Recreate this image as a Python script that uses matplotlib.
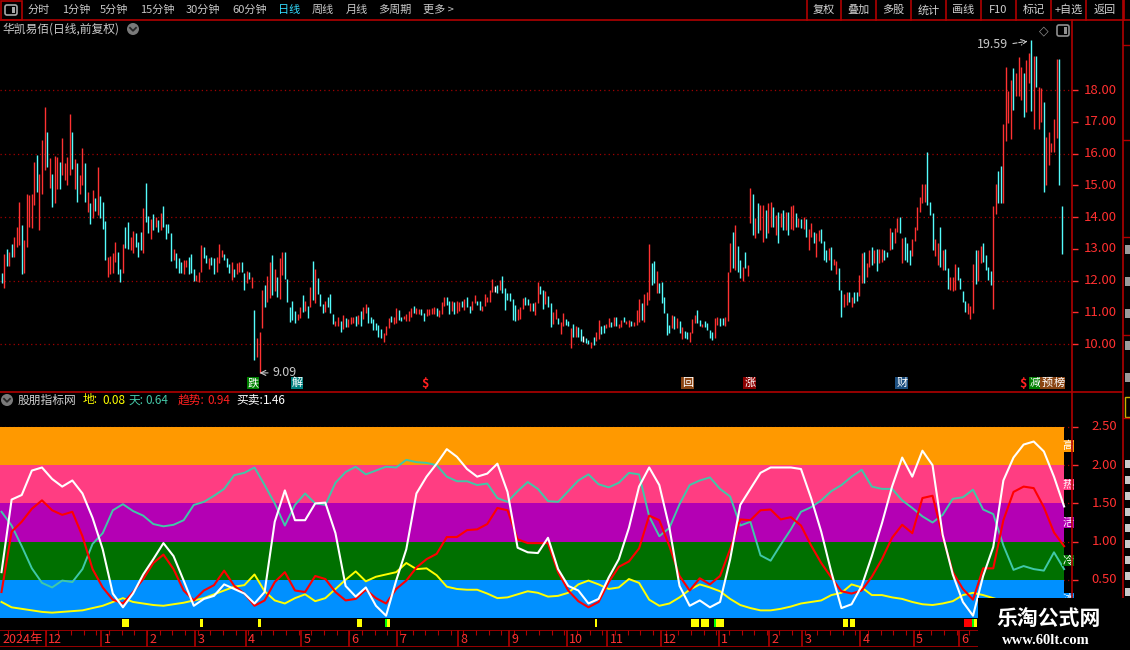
import numpy as np
import matplotlib
matplotlib.use("Agg")
import matplotlib.pyplot as plt
from matplotlib.patches import Rectangle, Circle, FancyBboxPatch

plt.rcParams['font.family'] = ['Noto Sans CJK SC', 'DejaVu Sans']

# ---- daily candles: high, low, colour flag (1 = up/red, 0 = down/cyan, 2 = doji/white)
HIGH = [
    12.23, 12.83, 12.98, 12.91, 13.15, 13.38, 13.70, 14.47, 13.75, 13.27, 14.72, 14.69, 14.74, 15.74, 15.94, 15.37, 16.43, 17.48, 16.67, 15.85,
    15.37, 15.92, 15.88, 15.74, 16.48, 15.69, 15.90, 17.24, 16.67, 15.82, 15.69, 15.32, 16.16, 15.69, 14.80, 14.43, 14.85, 14.61, 15.56, 14.66,
    14.48, 13.87, 12.75, 12.78, 12.86, 13.20, 12.89, 12.35, 13.15, 13.70, 13.84, 13.38, 13.56, 13.49, 13.22, 13.54, 14.27, 15.07, 14.03, 13.93,
    14.09, 13.99, 13.90, 14.14, 14.36, 13.77, 13.78, 13.49, 13.00, 12.86, 12.70, 12.59, 12.65, 12.65, 12.75, 12.83, 12.36, 12.17, 12.28, 13.12,
    13.07, 12.80, 12.70, 12.75, 12.70, 12.73, 13.15, 12.96, 12.83, 12.72, 12.52, 12.59, 12.36, 12.56, 12.59, 12.59, 12.25, 12.30, 12.28, 12.10,
    11.07, 10.18, 10.39, 11.70, 11.86, 12.14, 12.59, 12.80, 12.35, 12.12, 12.70, 12.89, 12.91, 12.04, 11.18, 11.36, 11.05, 10.96,
    11.16, 11.54, 11.35, 11.21, 11.81, 12.61, 12.36, 12.07, 11.58, 11.26, 11.35, 11.49, 11.58, 10.93, 10.72, 10.84, 10.73, 10.91, 10.81, 10.80, 10.84, 10.86,
    10.88, 10.91, 11.04, 11.16, 11.26, 11.16, 10.86, 10.79, 10.65, 10.60, 10.46, 10.34, 10.57, 10.81, 10.88, 10.86, 11.12, 11.07, 10.86, 10.89,
    10.93, 11.04, 11.14, 11.20, 11.14, 11.09, 11.10, 10.99, 11.11, 11.09, 11.14, 11.16, 11.12, 11.07, 11.33, 11.47, 11.47, 11.37, 11.34, 11.33,
    11.35, 11.33, 11.35, 11.41, 11.47, 11.21, 11.35, 11.54, 11.37, 11.35, 11.20, 11.58, 11.47, 11.70, 12.04, 11.83, 11.86, 12.02, 12.14, 11.75,
    11.60, 11.62, 11.42, 11.23, 11.09, 11.16, 11.44, 11.47, 11.42, 11.28, 11.28, 11.33, 11.96, 11.83, 11.70, 11.67, 11.51, 11.28, 11.01, 11.10,
    10.83, 10.70, 10.97, 10.79, 10.72, 10.51, 10.63, 10.57, 10.52, 10.47, 10.25, 10.18, 10.13, 10.07, 10.23, 10.37, 10.76, 10.57, 10.60, 10.63,
    10.83, 10.70, 10.84, 10.84, 10.63, 10.76, 10.84, 10.73, 10.76, 10.73, 10.68, 11.07, 11.41, 11.28, 11.58, 11.65, 13.15, 12.56, 12.61, 12.31,
    11.93, 11.96, 11.47, 10.97, 10.60, 10.91, 10.88, 10.81, 10.73, 10.52, 10.41, 10.39, 10.37, 10.79, 10.91, 11.07, 10.76, 10.63, 10.72, 10.65,
    10.44, 10.39, 10.83, 10.84, 10.83, 10.81, 10.84, 12.28,
    13.17, 13.54, 13.75, 13.09, 12.65, 12.44, 12.91, 12.49, 14.90, 14.74, 13.96, 14.43, 14.38, 14.38, 14.22, 14.43, 14.48, 14.33, 14.06, 14.17, 14.14, 14.22,
    14.17, 14.17, 14.35, 14.38, 14.14, 13.96, 13.93, 14.01, 13.93, 13.61, 13.80, 13.54, 13.51, 13.59, 13.61, 13.25, 12.96, 13.01, 13.04, 12.67,
    12.61, 12.38, 11.70, 11.59, 11.65, 11.65, 11.49, 11.65, 11.65, 12.17, 12.88, 12.91, 12.54, 12.96, 13.04, 12.96, 12.98, 12.98, 12.98, 12.96,
    12.91, 13.64, 13.54, 13.64, 13.96, 14.01, 13.33, 13.38, 13.17, 12.96, 13.30, 13.70, 14.33, 14.64, 15.04, 15.04, 16.04, 14.48, 14.12, 13.30,
    13.17, 13.70, 12.96, 12.98, 12.38, 12.12, 12.10, 12.52, 12.44, 12.07, 11.68, 11.36, 11.28, 11.20, 12.52, 12.96, 12.96, 13.09, 13.17, 12.80,
    12.41, 12.31, 14.35, 15.03, 15.45, 15.61, 16.93, 18.71, 17.98, 18.32, 18.68, 18.52, 19.03, 18.74, 18.52, 18.94, 19.16, 19.59, 19.07, 19.07,
    18.08, 18.05, 17.63, 16.51, 16.69, 16.34, 17.08, 18.97, 18.97, 14.35,
]
LOW = [
    11.93, 11.77, 12.46, 12.47, 12.75, 12.75, 13.07, 13.12, 12.19, 12.25, 13.07, 13.70, 13.64, 14.38, 14.80, 13.59, 14.74, 15.48, 15.59, 14.90,
    14.32, 14.43, 14.87, 14.87, 15.32, 15.17, 15.01, 15.32, 15.50, 14.89, 14.48, 14.72, 15.01, 14.48, 14.17, 13.77, 13.96, 14.19, 14.06, 13.96,
    13.61, 12.65, 12.10, 12.20, 12.23, 12.59, 12.19, 11.96, 12.23, 13.01, 12.98, 12.96, 12.86, 13.07, 12.75, 12.96, 12.88, 13.85, 13.49, 13.31,
    13.59, 13.70, 13.54, 13.59, 13.67, 13.31, 13.49, 12.61, 12.65, 12.38, 12.23, 12.23, 12.20, 12.44, 12.20, 12.25, 11.98, 11.98, 11.96, 12.28,
    12.70, 12.54, 12.36, 12.49, 12.20, 12.28, 12.56, 12.75, 12.65, 12.44, 12.23, 12.02, 12.12, 12.20, 12.28, 12.28, 11.70, 11.93, 12.04, 11.77,
    9.50, 9.60, 9.09, 10.49, 11.18, 11.31, 11.44, 11.54, 11.68, 11.49, 11.41, 12.17, 12.04, 11.33, 10.70, 10.76, 10.67, 10.76,
    10.83, 11.02, 11.05, 10.83, 11.18, 11.39, 11.28, 11.58, 11.20, 10.97, 11.02, 11.16, 10.97, 10.63, 10.57, 10.57, 10.39, 10.47, 10.52, 10.52, 10.63, 10.65,
    10.57, 10.63, 10.57, 10.78, 10.99, 10.65, 10.65, 10.44, 10.44, 10.23, 10.18, 10.07, 10.28, 10.49, 10.70, 10.63, 10.67, 10.76, 10.73, 10.78,
    10.72, 10.73, 10.84, 10.97, 10.95, 10.93, 10.91, 10.73, 10.88, 10.91, 10.93, 10.95, 10.88, 10.84, 10.95, 11.20, 11.23, 10.95, 11.05, 10.95,
    10.97, 11.05, 11.16, 11.07, 11.16, 10.99, 11.07, 11.30, 11.23, 11.07, 11.05, 11.20, 11.33, 11.33, 11.65, 11.65, 11.60, 11.70, 11.60, 11.07,
    11.39, 11.37, 10.76, 10.73, 10.76, 10.78, 11.10, 11.23, 11.23, 11.04, 11.04, 10.91, 11.30, 11.58, 11.10, 11.26, 11.18, 10.55, 10.63, 10.78,
    10.62, 10.32, 10.57, 10.60, 10.57, 9.88, 10.23, 10.23, 10.23, 10.11, 10.07, 10.04, 9.99, 9.86, 9.97, 10.11, 10.15, 10.32, 10.36, 10.49,
    10.55, 10.55, 10.57, 10.57, 10.49, 10.52, 10.70, 10.63, 10.55, 10.57, 10.57, 10.60, 10.70, 10.76, 10.70, 11.23, 11.39, 11.86, 11.91, 11.62,
    11.60, 11.28, 10.97, 10.28, 10.34, 10.49, 10.46, 10.49, 10.34, 10.15, 10.18, 10.15, 10.07, 10.36, 10.65, 10.67, 10.57, 10.55, 10.52, 10.44,
    10.18, 10.13, 10.20, 10.60, 10.57, 10.60, 10.57, 10.73,
    12.28, 12.38, 12.33, 12.28, 12.07, 11.99, 12.38, 12.14, 13.80, 13.43, 13.33, 13.49, 13.59, 13.22, 13.33, 13.49, 13.70, 13.70, 13.43, 13.17, 13.70, 13.59,
    13.59, 13.43, 13.61, 13.59, 13.70, 13.70, 13.64, 13.61, 13.38, 12.96, 13.38, 13.17, 12.75, 13.25, 13.17, 12.65, 12.59, 12.65, 12.33, 12.49,
    12.22, 11.70, 10.84, 11.15, 11.23, 11.33, 11.17, 11.30, 11.36, 11.52, 11.93, 11.93, 12.12, 12.44, 12.49, 12.54, 12.31, 12.56, 12.59, 12.65,
    12.73, 12.96, 12.98, 13.17, 13.54, 13.49, 12.56, 12.65, 12.59, 12.49, 12.77, 13.25, 13.59, 14.17, 14.45, 14.48, 14.38, 14.06, 12.96, 12.77,
    12.49, 12.41, 12.33, 12.33, 11.72, 11.70, 11.68, 11.70, 12.02, 11.72, 11.33, 11.02, 10.96, 10.78, 10.99, 11.89, 11.99, 12.54, 12.59, 12.33,
    12.02, 11.86, 11.09, 14.09, 14.45, 14.45, 14.45, 16.40, 16.97, 16.45, 17.37, 17.81, 17.81, 17.69, 17.16, 17.32, 18.21, 17.35, 16.76, 18.08,
    16.76, 17.00, 14.80, 15.01, 15.64, 16.06, 16.06, 16.48, 15.01, 12.83,
]
UP = [
    0, 1, 0, 1, 0, 1, 1, 1, 0, 1, 1, 1, 1, 1, 0, 1, 1, 1, 0, 1,
    0, 1, 1, 0, 1, 1, 1, 1, 0, 1, 0, 1, 1, 0, 1, 0, 1, 0, 1, 0,
    0, 0, 1, 1, 1, 1, 0, 0, 1, 0, 0, 1, 1, 0, 0, 0, 1, 0, 0, 1,
    0, 1, 0, 1, 0, 0, 0, 0, 1, 0, 0, 0, 1, 1, 0, 0, 0, 1, 1, 1,
    0, 0, 1, 0, 0, 1, 1, 1, 0, 0, 0, 1, 0, 1, 1, 0, 0, 1, 0, 1,
    0, 1, 1, 1, 0, 1, 1, 0, 1, 0, 1, 1, 0, 0, 0, 0, 0, 1,
    1, 0, 1, 0, 1, 0, 1, 0, 0, 0, 1, 0, 0, 0, 1, 1, 0, 1, 0, 1, 1, 1,
    0, 1, 0, 1, 1, 0, 0, 0, 0, 0, 0, 1, 1, 1, 0, 1, 1, 0, 0, 1,
    1, 1, 1, 0, 1, 1, 0, 0, 1, 1, 1, 1, 0, 1, 1, 1, 0, 0, 1, 0,
    1, 1, 0, 1, 0, 0, 1, 1, 0, 0, 1, 1, 1, 1, 1, 2, 0, 1, 0, 0,
    0, 0, 0, 0, 1, 1, 1, 0, 0, 1, 0, 1, 1, 0, 0, 1, 0, 0, 1, 1,
    0, 1, 1, 0, 0, 1, 0, 1, 0, 0, 2, 0, 0, 1, 0, 1, 1, 0, 0, 1,
    1, 0, 1, 0, 1, 1, 0, 1, 1, 0, 1, 1, 1, 0, 1, 1, 1, 0, 0, 1,
    0, 0, 0, 0, 0, 1, 0, 1, 0, 1, 0, 0, 1, 1, 1, 0, 0, 1, 0, 0,
    0, 0, 1, 1, 0, 0, 1, 1,
    1, 0, 1, 0, 0, 1, 0, 1, 1, 0, 1, 0, 1, 1, 0, 1, 1, 0, 1, 0, 1, 0,
    1, 0, 1, 1, 0, 1, 0, 1, 0, 1, 1, 0, 1, 1, 0, 0, 0, 1, 0, 1,
    1, 0, 0, 1, 1, 0, 1, 0, 0, 1, 1, 0, 1, 1, 0, 1, 0, 1, 1, 0,
    0, 1, 0, 1, 1, 0, 1, 0, 0, 0, 1, 1, 1, 1, 1, 1, 0, 0, 0, 1,
    1, 0, 1, 0, 0, 1, 1, 1, 0, 0, 0, 0, 1, 1, 1, 0, 1, 1, 0, 0,
    0, 0, 1, 1, 0, 0, 1, 1, 1, 1, 0, 1, 1, 1, 0, 1, 1, 0, 1, 0,
    1, 1, 0, 1, 1, 1, 1, 1, 0, 0,
]

# ---- indicator lines, one reading every 4 candles
WHITE = [0.60, 1.55, 1.61, 1.93, 1.97, 1.82, 1.72, 1.80, 1.63, 1.31,
         0.90, 0.32, 0.14, 0.32, 0.57, 0.77, 0.98, 0.81, 0.49, 0.16,
         0.25, 0.29, 0.44, 0.38, 0.32, 0.19, 0.34, 1.26, 1.67, 1.28,
         1.28, 1.50, 1.51, 1.11, 0.42, 0.28, 0.40, 0.16, 0.03, 0.49,
         0.90, 1.63, 1.85, 2.02, 2.21, 2.11, 1.95, 1.85, 1.89, 2.02,
         1.65, 0.92, 0.86, 0.85, 1.05, 0.64, 0.42, 0.36, 0.19, 0.25,
         0.53, 0.77, 1.18, 1.72, 1.97, 1.74, 1.18, 0.42, 0.16, 0.23,
         0.14, 0.21, 0.77, 1.48, 1.69, 1.90, 1.97, 1.97, 1.97, 1.95,
         1.57, 1.13, 0.60, 0.13, 0.18, 0.42, 0.81, 1.24, 1.72, 2.10,
         1.85, 2.19, 2.00, 1.09, 0.57, 0.21, 0.03, 0.55, 0.93, 1.80,
         2.10, 2.27, 2.31, 2.18, 1.85, 1.46]
RED = [0.34, 1.13, 1.26, 1.43, 1.54, 1.41, 1.35, 1.39, 1.07, 0.64,
       0.40, 0.24, 0.19, 0.34, 0.51, 0.72, 0.83, 0.64, 0.36, 0.23,
       0.36, 0.43, 0.62, 0.42, 0.32, 0.16, 0.23, 0.47, 0.60, 0.36,
       0.34, 0.55, 0.51, 0.34, 0.23, 0.25, 0.37, 0.26, 0.19, 0.38,
       0.49, 0.66, 0.77, 0.84, 1.06, 1.06, 1.15, 1.16, 1.23, 1.44,
       1.41, 1.03, 0.98, 0.98, 0.98, 0.60, 0.36, 0.22, 0.14, 0.21,
       0.47, 0.67, 0.74, 0.91, 1.34, 1.28, 0.94, 0.55, 0.36, 0.52,
       0.44, 0.55, 0.90, 1.29, 1.28, 1.41, 1.42, 1.29, 1.32, 1.21,
       0.95, 0.72, 0.53, 0.35, 0.32, 0.36, 0.54, 0.77, 1.05, 1.22,
       1.11, 1.57, 1.60, 1.07, 0.60, 0.38, 0.24, 0.65, 0.65, 1.28,
       1.65, 1.72, 1.70, 1.45, 1.12, 0.94]
TEAL = [1.39, 1.21, 0.94, 0.65, 0.46, 0.40, 0.49, 0.47, 0.64, 0.97,
        1.11, 1.41, 1.49, 1.40, 1.34, 1.23, 1.20, 1.22, 1.28, 1.48,
        1.52, 1.60, 1.69, 1.87, 1.90, 1.97, 1.74, 1.50, 1.21, 1.48,
        1.63, 1.50, 1.48, 1.77, 1.91, 1.98, 1.88, 1.93, 1.98, 1.97,
        2.07, 2.04, 2.03, 2.00, 1.85, 1.79, 1.79, 1.74, 1.76, 1.57,
        1.52, 1.66, 1.78, 1.69, 1.53, 1.52, 1.66, 1.80, 1.88, 1.75,
        1.71, 1.77, 1.90, 1.88, 1.33, 1.07, 1.18, 1.49, 1.74, 1.80,
        1.84, 1.69, 1.59, 1.21, 1.26, 0.82, 0.75, 0.96, 1.16, 1.39,
        1.45, 1.54, 1.66, 1.74, 1.85, 1.94, 1.72, 1.69, 1.69, 1.54,
        1.44, 1.33, 1.25, 1.35, 1.56, 1.58, 1.68, 1.42, 1.36, 0.95,
        0.63, 0.68, 0.64, 0.62, 0.86, 0.64]
YELLOW = [0.21, 0.14, 0.12, 0.10, 0.08, 0.07, 0.08, 0.09, 0.10, 0.13,
          0.16, 0.21, 0.26, 0.21, 0.19, 0.17, 0.16, 0.18, 0.20, 0.23,
          0.26, 0.31, 0.36, 0.41, 0.43, 0.57, 0.35, 0.23, 0.19, 0.26,
          0.31, 0.22, 0.26, 0.38, 0.50, 0.61, 0.48, 0.54, 0.57, 0.60,
          0.72, 0.64, 0.65, 0.56, 0.41, 0.38, 0.37, 0.37, 0.32, 0.26,
          0.27, 0.31, 0.35, 0.33, 0.28, 0.29, 0.33, 0.44, 0.49, 0.44,
          0.38, 0.40, 0.51, 0.46, 0.24, 0.16, 0.19, 0.27, 0.37, 0.44,
          0.40, 0.35, 0.25, 0.17, 0.13, 0.10, 0.10, 0.12, 0.15, 0.19,
          0.21, 0.23, 0.30, 0.33, 0.44, 0.40, 0.30, 0.30, 0.27, 0.25,
          0.21, 0.18, 0.17, 0.19, 0.22, 0.30, 0.33, 0.30, 0.26, 0.22,
          0.18, 0.15, 0.12, 0.10, 0.09, 0.08]

# ---- signal squares under the bands (candle index)
SIG_YELLOW = [48, 49, 50, 79, 102, 141, 142, 153, 235, 273, 274, 275, 277, 278, 279,
              283, 284, 285, 333, 334, 336, 337, 385]
SIG_GREEN = [152, 282, 384]
SIG_RED = [381, 382, 383]

BAND_EDGES = [0.0, 0.5, 1.0, 1.5, 2.0, 2.5]
BAND_NAMES = ['冰', '冷', '活', '热', '高']
BAND_COLORS = ['#0090ff', '#007000', '#b400b4', '#ff3d82', '#ff9900']

PRICE_TICKS = [10, 11, 12, 13, 14, 15, 16, 17, 18]
PRICE_GRID = [10, 12, 14, 16, 18]
IND_TICKS = [0.5, 1.0, 1.5, 2.0, 2.5]

MONTH_IDX = [17.5, 39.5, 57.5, 76.5, 96.5, 118.5, 137.5, 156.5, 180.5, 200.5,
             223.5, 239.5, 260.5, 283.5, 303.5, 316.5, 339.5, 360.5, 378.5]
MONTH_LBL = ['12', '1', '2', '3', '4', '5', '6', '7', '8', '9',
             '10', '11', '12', '1', '2', '3', '4', '5', '6']

# event badges along the bottom of the price panel: (candle index, text, background)
BADGES = [(99.4, '跌', '#008000'), (116.8, '解', '#008080'), (271.3, '回', '#8b4513'),
          (295.8, '涨', '#8b0000'), (355.9, '财', '#1c4f80'), (408.5, '减', '#008000'),
          (413.2, '预', '#8b4513'), (418.0, '榜', '#8b4513')]
DOLLARS = [167.4, 403.8]

W, H = 1130, 650
STEP, X0 = 2.53, 1.5     # candle spacing in pixels, first candle offset
RL = '#b00000'
AXRED = '#ff3030'

fig = plt.figure(figsize=(W / 100, H / 100), dpi=100, facecolor='black')


def box(x0, y0, x1, y1):
    return [x0 / W, 1 - y1 / H, (x1 - x0) / W, (y1 - y0) / H]


def xlim_for(px_right):
    return (-X0 / STEP, (px_right - X0) / STEP)


# ================= price panel =================
axp = fig.add_axes(box(0, 20, 1072, 391), facecolor='black')
n = min(len(HIGH), len(LOW), len(UP))
xi = np.arange(n)
ccol = {1: '#ff3232', 0: '#54fcfc', 2: '#ffffff'}
axp.vlines(xi, LOW[:n], HIGH[:n], colors=[ccol[u] for u in UP[:n]], lw=1.0, zorder=3)
for p in PRICE_GRID:
    axp.axhline(p, color='#a00000', ls=(0, (1, 2.5)), lw=0.9, zorder=1)
axp.set_xlim(*xlim_for(1072))
axp.set_ylim(8.52, 20.205)
axp.set_xticks([])
axp.set_yticks(PRICE_TICKS)
axp.tick_params(axis='y', left=False, right=True, labelleft=False, labelright=False,
                length=4, width=1, color=AXRED)
for s in axp.spines.values():
    s.set_visible(False)
for t in PRICE_TICKS:
    axp.text(1117 / 1072, t, f'{t:.2f}', transform=axp.get_yaxis_transform(),
             ha='right', va='center', color=AXRED, fontsize=9.5, clip_on=False)

lowi = int(np.argmin(LOW[:n]))
axp.annotate(f'{LOW[lowi]:.2f}', xy=(lowi, LOW[lowi]), xytext=(lowi + 5.0, LOW[lowi]),
             color='#c8c8c8', fontsize=9, va='center', ha='left',
             arrowprops=dict(arrowstyle='->', color='#c8c8c8', lw=0.8, shrinkA=1, shrinkB=0))
hii = int(np.argmax(HIGH[:n]))
axp.text(hii - 9.0, HIGH[hii] - 0.17, f'{HIGH[hii]:.2f}', color='#c8c8c8', fontsize=9,
         va='center', ha='right')
axp.annotate('', xy=(hii - 0.3, HIGH[hii] - 0.04), xytext=(hii - 8.3, HIGH[hii] - 0.14),
             arrowprops=dict(arrowstyle='->', color='#c8c8c8', lw=0.8, ls='--'))

for xb, ch, bg in BADGES:
    axp.text(xb, 8.77, ch, color='white', fontsize=8, ha='center', va='center',
             bbox=dict(boxstyle='square,pad=0.08', fc=bg, ec='none'))
for xd in DOLLARS:
    axp.text(xd, 8.77, '$', color='#ff2020', fontsize=9, fontweight='bold', ha='center', va='center')

# ================= indicator panel =================
axi = fig.add_axes(box(0, 392, 1072, 630), facecolor='black')
xlo, xhi = xlim_for(1072)
band_end = (1064 - X0) / STEP
for lo, hi, c in zip(BAND_EDGES[:-1], BAND_EDGES[1:], BAND_COLORS):
    axi.add_patch(Rectangle((xlo, lo), band_end - xlo, hi - lo, fc=c, ec='none', zorder=1))
for lo, hi, c, name in zip(BAND_EDGES[:-1], BAND_EDGES[1:], BAND_COLORS, BAND_NAMES):
    axi.text((1068 - X0) / STEP, (lo + hi) / 2, name, color='white', fontsize=8,
             ha='center', va='center', zorder=6,
             bbox=dict(boxstyle='square,pad=0.05', fc=c, ec='none'))
for v in IND_TICKS:
    axi.axhline(v, color='#a00000', ls=(0, (1, 2.5)), lw=0.9, zorder=0)

xl = np.arange(len(WHITE)) * 4
axi.plot(xl, TEAL, color='#40c8a8', lw=1.4, zorder=3)
axi.plot(xl, YELLOW, color='#ffff00', lw=1.4, zorder=3)
axi.plot(xl, RED, color='#ff0000', lw=1.5, zorder=4)
axi.plot(xl, WHITE, color='#ffffff', lw=1.5, zorder=5)

axi.bar(SIG_YELLOW, -0.105, bottom=-0.013, width=1.0, color='#ffff00', lw=0, zorder=3)
axi.bar(SIG_GREEN, -0.105, bottom=-0.013, width=1.0, color='#00ff00', lw=0, zorder=3)
axi.bar(SIG_RED, -0.105, bottom=-0.013, width=1.0, color='#ff0000', lw=0, zorder=3)

axi.set_xlim(xlo, xhi)
axi.set_ylim(-0.157, 2.958)
axi.set_xticks([])
axi.set_yticks(IND_TICKS)
axi.tick_params(axis='y', left=False, right=True, labelleft=False, labelright=False,
                length=4, width=1, color=AXRED)
for s in axi.spines.values():
    s.set_visible(False)
for v in IND_TICKS:
    axi.text(1117 / 1072, v, f'{v:.2f}', transform=axi.get_yaxis_transform(),
             ha='right', va='center', color=AXRED, fontsize=9.5, clip_on=False)

# ================= date strip =================
axd = fig.add_axes(box(0, 630, 1123, 647), facecolor='black')
axd.set_xlim(*xlim_for(1123))
axd.set_ylim(0, 1)
axd.axis('off')
axd.axhline(1, color=RL, lw=1.2)
axd.axhline(0, color=RL, lw=1.2)
axd.vlines(MONTH_IDX, 0, 1, color=RL, lw=1.2)
axd.vlines(np.arange(2.5, 420, 5.0), 0.72, 1, color=RL, lw=0.8)
axd.text(xlim_for(1123)[0] + 0.8, 0.45, '2024年', color=AXRED, fontsize=9, va='center', ha='left')
for m, lab in zip(MONTH_IDX, MONTH_LBL):
    axd.text(m + 0.9, 0.45, lab, color=AXRED, fontsize=9, va='center', ha='left')

# ================= window chrome =================
ov = fig.add_axes([0, 0, 1, 1])
ov.set_xlim(0, W)
ov.set_ylim(H, 0)
ov.axis('off')
ov.set_zorder(10)
ov.patch.set_alpha(0)

ov.plot([0, W], [20, 20], color=RL, lw=1.2)
ov.add_patch(Rectangle((0.5, 0.5), 21.5, 19.5, fill=False, ec=RL, lw=1.2))
ov.add_patch(FancyBboxPatch((5, 5), 12, 10, boxstyle='round,pad=0,rounding_size=2',
                            fill=False, ec='#a8a8a8', lw=1.2))
ov.add_patch(Rectangle((11.5, 7), 3.5, 6, fc='#a8a8a8', ec='none'))

toolbar = [('分时', 28), ('1分钟', 62), ('5分钟', 100), ('15分钟', 140), ('30分钟', 186),
           ('60分钟', 232), ('日线', 278), ('周线', 312), ('月线', 346), ('多周期', 378), ('更多 >', 423)]
for lab, x in toolbar:
    ov.text(x, 10, lab, color='#33ddff' if lab == '日线' else '#c8c8c8', fontsize=8,
            ha='left', va='center')

seps = [807, 841, 876, 911, 946, 981, 1016, 1051, 1086, 1124]
buttons = ['复权', '叠加', '多股', '统计', '画线', 'F10', '标记', '+自选', '返回']
for s in seps:
    ov.plot([s, s], [0, 20], color=RL, lw=1.2)
for a, b, lab in zip(seps[:-1], seps[1:], buttons):
    ov.text((a + b) / 2, 10, lab, color='#d0d0d0', fontsize=8, ha='center', va='center')

ov.text(2, 29, '华凯易佰(日线,前复权)', color='#c8c8c8', fontsize=8.5, ha='left', va='center')
for cx, cy in [(133, 29), (7, 400)]:
    ov.add_patch(Circle((cx, cy), 6, fc='#7a7a7a', ec='none'))
    ov.plot([cx - 3, cx, cx + 3], [cy - 1.2, cy + 1.8, cy - 1.2], color='#262626', lw=1.3)
ov.text(1044, 31, '◇', color='#909090', fontsize=9, ha='center', va='center',
        family=['DejaVu Sans'])
ov.add_patch(FancyBboxPatch((1057, 25), 12, 11, boxstyle='round,pad=0,rounding_size=2',
                            fill=False, ec='#909090', lw=1.2))
ov.add_patch(Rectangle((1063.5, 27), 3.5, 7, fc='#909090', ec='none'))

ov.plot([1072, 1072], [20, H], color=RL, lw=1.2)
ov.plot([1123, 1123], [0, H], color=RL, lw=1.2)
ov.plot([0, 1123], [391.5, 391.5], color=RL, lw=1.2)

title_parts = [(18, '股朋指标网', '#d0d0d0'), (83, '地:', '#ffff00'), (102, '0.08', '#ffff00'),
               (129, '天:', '#45c8a8'), (145, '0.64', '#45c8a8'), (178, '趋势:', '#ff2020'),
               (207, '0.94', '#ff2020'), (236, '买卖:', '#ffffff'), (263, '1.46', '#ffffff')]
for x, t, c in title_parts:
    ov.text(x, 400, t, color=c, fontsize=8.5, ha='left', va='center')

# cut-off side panel on the far right
for yy in np.arange(245, 390, 32):
    ov.add_patch(Rectangle((1125, yy), 5, 9, fc='#9a9a9a', ec='none'))
for yy in np.arange(460, 600, 16):
    ov.add_patch(Rectangle((1125, yy), 5, 8, fc='#c8c8c8', ec='none'))
ov.add_patch(Rectangle((1125, 397), 6, 20, fill=False, ec='#c8b400', lw=1))
for yy in [45, 140, 237, 335, 418]:
    ov.plot([1123, 1130], [yy, yy], color=RL, lw=1)

# watermark
ov.add_patch(Rectangle((978, 598), 152, 52, fc='black', ec='none', zorder=20))
ov.text(1049, 618, '乐淘公式网', color='white', fontsize=15, fontweight='bold',
        ha='center', va='center', zorder=21)
ov.text(1046, 640, 'www.60lt.com', color='white', fontsize=10.5, fontweight='bold',
        family=['Liberation Serif', 'DejaVu Serif'], ha='center', va='center', zorder=21)

fig.savefig('out.png', dpi=100, facecolor='black')
